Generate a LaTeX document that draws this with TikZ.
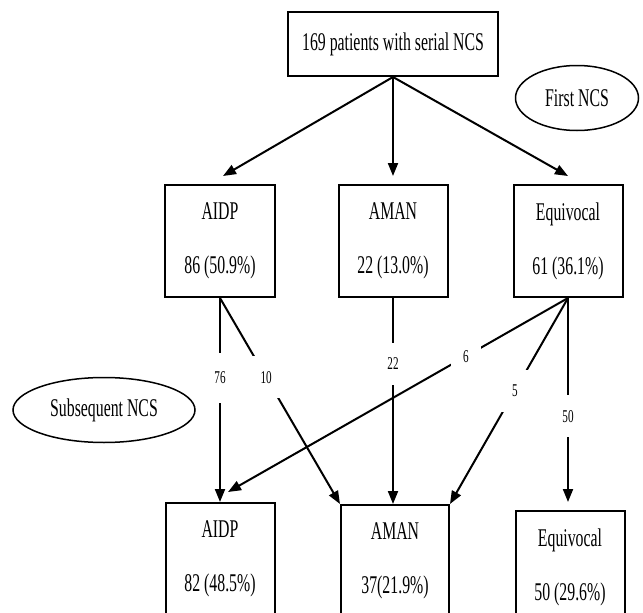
\documentclass[tikz,border=0pt]{standalone}
\usepackage{fontspec}
\setmainfont[FakeStretch=0.62]{Liberation Serif}
\usetikzlibrary{positioning, shapes.geometric, arrows.meta}

\begin{document}
\begin{tikzpicture}[x=1pt, y=-1pt, >={Triangle[length=13pt, width=10pt]},
    every node/.style={font=\fontsize{25.5}{54}\selectfont},
    stage/.style={draw, rectangle, line width=2pt, minimum width=110pt, minimum height=112pt, align=center},
    phase/.style={draw, ellipse, line width=1.5pt, inner sep=0pt},
    count/.style={fill=white, inner xsep=12pt, inner ysep=15pt, font=\fontsize{18}{18}\selectfont},
    flow/.style={->, line width=2pt}]
    \useasboundingbox (0,0) rectangle (643,613);
    \clip (0,0) rectangle (643,613);

    \node [draw, rectangle, line width=2pt, minimum width=210pt, minimum height=64pt] (cohort) at (393,44) {169 patients with serial NCS};
    \node [phase, minimum width=123pt, minimum height=65pt] (first) at (577,98) {First NCS};
    \node [phase, minimum width=182pt, minimum height=65pt] (later) at (104,410) {Subsequent NCS};

    % first NCS
    \node [stage] (aidpA) at (220,241) {AIDP\\86 (50.9\%)};
    \node [stage, minimum width=109pt] (amanA) at (393,241) {AMAN\\22 (13.0\%)};
    \node [stage, minimum width=109pt] (equivA) at (568,241) {Equivocal\\61 (36.1\%)};

    % subsequent NCS
    \node [stage, minimum width=109pt] (aidpB) at (220,559) {AIDP\\82 (48.5\%)};
    \node [stage, minimum width=108pt] (amanB) at (395,561) {AMAN\\37(21.9\%)};
    \node [stage, minimum width=109pt] (equivB) at (570,567) {Equivocal\\50 (29.6\%)};

    \draw [flow] (cohort.south) -- ([xshift=3pt, yshift=8pt]aidpA.north);
    \draw [flow] (cohort.south) -- ([yshift=8pt]cohort.south |- amanA.north);
    \draw [flow] (cohort.south) -- ([yshift=8pt]equivA.north);

    \draw [flow] (aidpA.south) -- node [count, pos=0.39, inner ysep=19pt] {76} (aidpA.south |- aidpB.north);
    \draw [flow] (aidpA.south) -- node [count, pos=0.385] {10} (amanB.north west);
    \draw [flow] (amanA.south) -- node [count, pos=0.32] {22} (amanA.south |- amanB.north);
    \draw [flow] (equivA.south) -- node [count, pos=0.3] {6} ([xshift=8pt, yshift=10pt]aidpB.north);
    \draw [flow] (equivA.south) -- node [count, pos=0.45] {5} (amanB.north east);
    \draw [flow] (equivA.south) -- node [count, pos=0.58] {50} ([yshift=8pt]equivA.south |- equivB.north);
\end{tikzpicture}
\end{document}
